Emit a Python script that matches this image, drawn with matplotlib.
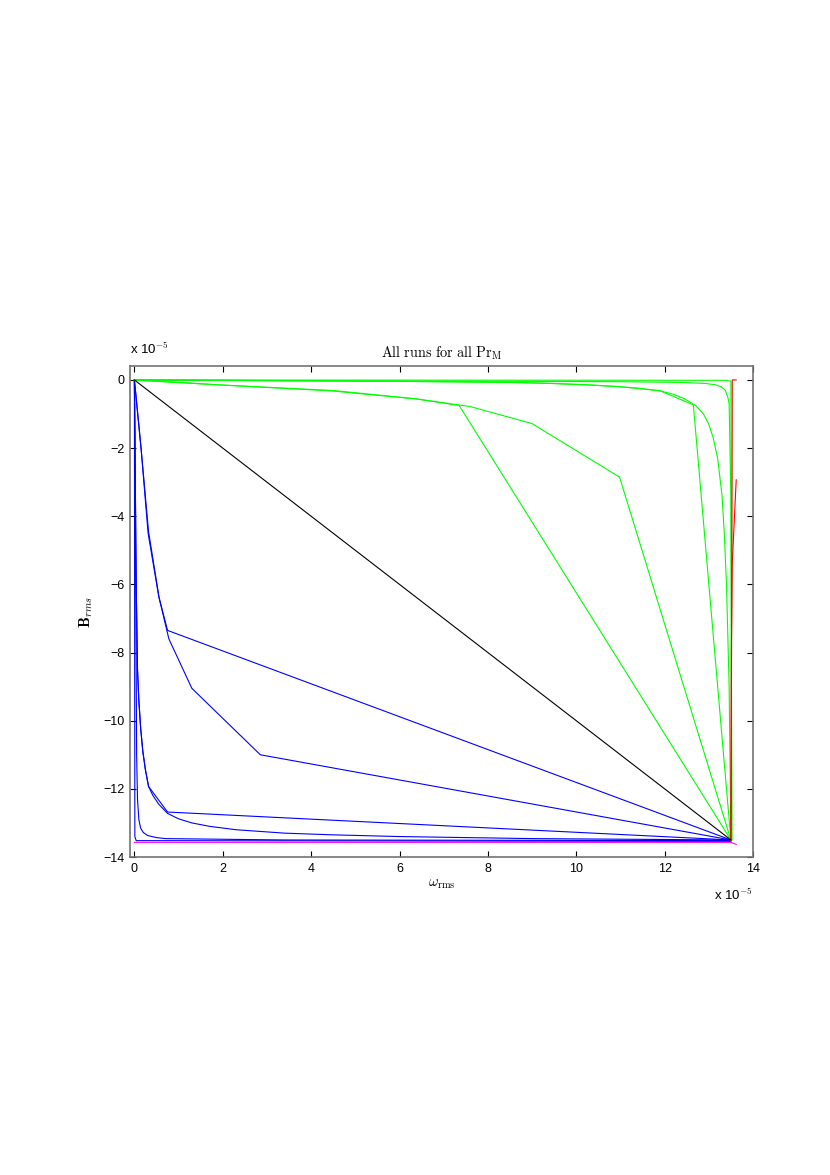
import matplotlib
matplotlib.use("Agg")
import matplotlib.pyplot as plt

plt.rcParams['mathtext.fontset'] = 'cm'
plt.rcParams['font.family'] = ['Liberation Sans', 'DejaVu Sans']

# values in units of 1e-5
black_x = [0, 13.5]
black_y = [0, -13.5]

blue_a_x = [0, 0.15, 0.31, 0.55, 0.75, 13.5]
blue_a_y = [0, -2.0, -4.5, -6.35, -7.35, -13.5]

blue_b_x = [0, 0.15, 0.32, 0.56, 0.78, 1.3, 2.85, 13.5]
blue_b_y = [0, -2.0, -4.45, -6.4, -7.6, -9.05, -11.0, -13.5]

blue_c_x = [0, 0.02, 0.04, 0.07, 0.1, 0.14, 0.19, 0.25, 0.32, 0.75, 13.5]
blue_c_y = [0, -3.0, -6.0, -8.5, -9.4, -10.2, -10.9, -11.45, -11.93, -12.68, -13.5]

blue_d_x = [0, 0.02, 0.04, 0.07, 0.1, 0.14, 0.19, 0.25, 0.32, 0.42, 0.55, 0.75, 1.0, 1.3,
            1.7, 2.3, 3.4, 4.5, 6.0, 9.0, 13.5]
blue_d_y = [0, -3.0, -6.0, -8.5, -9.4, -10.2, -10.9, -11.45, -11.93, -12.2, -12.45, -12.72,
            -12.88, -13.0, -13.1, -13.2, -13.3, -13.35, -13.4, -13.46, -13.5]

blue_e_x = [0, 0.03, 0.05, 0.07, 0.1, 0.14, 0.2, 0.3, 0.5, 0.7, 3.4, 13.5]
blue_e_y = [0, -6.0, -11.0, -12.3, -12.9, -13.15, -13.28, -13.37, -13.43, -13.46, -13.5, -13.52]

blue_f_x = [0, 0.01, 0.04, 13.5]
blue_f_y = [0, -13.4, -13.52, -13.54]

green_a_x = [0, 2.0, 4.5, 6.35, 7.35, 13.5]
green_a_y = [0, -0.15, -0.31, -0.55, -0.75, -13.5]

green_b_x = [0, 2.0, 4.45, 6.4, 7.6, 9.0, 10.98, 13.5]
green_b_y = [0, -0.15, -0.32, -0.56, -0.78, -1.28, -2.85, -13.5]

green_c_x = [0, 3.0, 6.0, 8.5, 9.4, 10.2, 10.9, 11.45, 11.9, 12.65, 13.5]
green_c_y = [0, -0.02, -0.04, -0.07, -0.1, -0.14, -0.19, -0.25, -0.32, -0.73, -13.5]

green_d_x = [0, 3.0, 6.0, 8.5, 9.4, 10.2, 10.9, 11.45, 11.9, 12.2, 12.45, 12.7, 12.88,
             13.0, 13.1, 13.2, 13.3, 13.35, 13.4, 13.46, 13.5]
green_d_y = [0, -0.02, -0.04, -0.07, -0.1, -0.14, -0.19, -0.25, -0.32, -0.42, -0.55, -0.75,
             -1.0, -1.3, -1.7, -2.3, -3.4, -4.5, -6.0, -9.0, -13.5]

green_e_x = [0, 6.0, 11.0, 12.3, 12.9, 13.15, 13.28, 13.37, 13.43, 13.46, 13.5, 13.52]
green_e_y = [0, -0.03, -0.05, -0.07, -0.1, -0.14, -0.2, -0.3, -0.5, -0.7, -3.4, -13.5]

green_f_x = [0, 13.4, 13.5, 13.52]
green_f_y = [0, -0.01, -0.04, -13.5]

red_a_x = [13.5, 13.52, 13.53, 13.53, 13.62]
red_a_y = [-13.5, -6.0, -1.0, 0.0, 0.0]

red_b_x = [13.5, 13.51, 13.53, 13.62]
red_b_y = [-13.5, -8.0, -5.4, -2.93]

magenta_x = [0, 13.5, 13.62]
magenta_y = [-13.57, -13.57, -13.63]

x_ticks = [0, 2, 4, 6, 8, 10, 12, 14]
y_ticks = [0, -2, -4, -6, -8, -10, -12, -14]

fig = plt.figure(figsize=(8.3, 11.75), dpi=100)
ax = fig.add_axes([130/830, 1-857/1175, 623/830, 491/1175])

lw = 0.8
for xs, ys in [(blue_f_x, blue_f_y), (blue_e_x, blue_e_y), (blue_d_x, blue_d_y),
               (blue_c_x, blue_c_y), (blue_b_x, blue_b_y), (blue_a_x, blue_a_y)]:
    ax.plot(xs, ys, color=(0, 0, 1), lw=lw)
for xs, ys in [(green_f_x, green_f_y), (green_e_x, green_e_y), (green_d_x, green_d_y),
               (green_c_x, green_c_y), (green_b_x, green_b_y), (green_a_x, green_a_y)]:
    ax.plot(xs, ys, color=(0, 1, 0), lw=lw)
ax.plot(red_b_x, red_b_y, color=(1, 0, 0), lw=lw)
ax.plot(red_a_x, red_a_y, color=(1, 0, 0), lw=lw)
ax.plot(magenta_x, magenta_y, color=(1, 0, 1), lw=lw)
ax.plot(black_x, black_y, color='black', lw=lw)

ax.set_xlim(-0.1, 14)
ax.set_ylim(-14, 0.41)
ax.set_xticks(x_ticks)
ax.set_yticks(y_ticks)
ax.set_xticklabels([str(v) for v in x_ticks])
ax.set_yticklabels([str(v).replace('-', '\u2212') for v in y_ticks])
ax.tick_params(direction='in', top=True, right=True, length=4, width=0.8,
               labelsize=9, pad=4, color='black')
for s in ax.spines.values():
    s.set_color('0.45')
    s.set_linewidth(1.2)

ax.set_title(r'$\mathrm{All\ runs\ for\ all\ Pr_M}$', fontsize=10.3, pad=6)
ax.set_xlabel(r'$\omega_{\rm rms}$', fontsize=10.5, labelpad=2)
ax.set_ylabel(r'$\mathbf{B}_{rms}$', fontsize=11, labelpad=6)

ax.text(0.0, 1.018, r'x 10$^{\mathsf{-5}}$', transform=ax.transAxes,
        ha='left', va='bottom', fontsize=9.5)
ax.text(1.0, -0.062, r'x 10$^{\mathsf{-5}}$', transform=ax.transAxes,
        ha='right', va='top', fontsize=9.5)

fig.savefig('out.png', dpi=100)
